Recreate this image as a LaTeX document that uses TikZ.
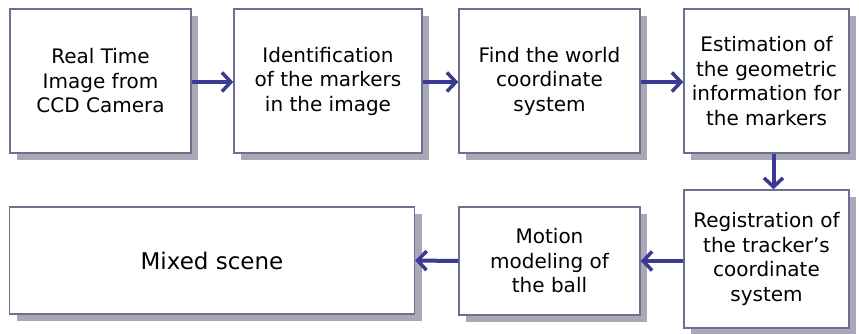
\documentclass[tikz,border=0pt]{standalone}
\usepackage{fontspec}
\setmainfont{DejaVu Sans}
\usetikzlibrary{arrows.meta,shadows}
\definecolor{boxline}{HTML}{6E6E92}
\definecolor{shadowc}{HTML}{A8A8B6}
\definecolor{arrowc}{HTML}{3A3A92}
\begin{document}
\begin{tikzpicture}[x=1pt,y=-1pt,
  box/.style={draw=boxline,line width=1.4pt,fill=white,
    drop shadow={shadow xshift=7pt,shadow yshift=-7pt,fill=shadowc,opacity=1},
    align=center,inner sep=0pt,
    font=\fontsize{20}{24.5}\selectfont},
  flow/.style={draw=arrowc,line width=4pt,
    -{Straight Barb[length=9pt,width=19pt,line width=3.5pt]}}]
\useasboundingbox (0,0) rectangle (859,334);
\node[box,minimum width=181pt,minimum height=144pt] (b1) at (100.5,81) {Real Time\\Image from\\CCD Camera};
\node[box,minimum width=188pt,minimum height=144pt] (b2) at (328,81) {Identification\\of the markers\\in the image};
\node[box,minimum width=181pt,minimum height=144pt] (b3) at (549.5,81) {Find the world\\coordinate\\system};
\node[box,minimum width=165pt,minimum height=144pt] (b4) at (766.5,81) {Estimation of\\the geometric\\information for\\the markers};
\node[box,minimum width=165pt,minimum height=138pt] (b5) at (766.5,259) {Registration of\\the tracker's\\coordinate\\system};
\node[box,minimum width=181pt,minimum height=108pt] (b6) at (549.5,261) {Motion\\modeling of\\the ball};
\node[box,minimum width=405pt,minimum height=107pt,font=\fontsize{23}{28}\selectfont] (b7) at (212,260.5) {Mixed scene};
\draw[flow] ([yshift=-1pt]b1.east) -- ([yshift=-1pt]b2.west);
\draw[flow] ([yshift=-1pt]b2.east) -- ([yshift=-1pt]b3.west);
\draw[flow] ([yshift=-1pt]b3.east) -- ([yshift=-1pt]b4.west);
\draw[flow] ([xshift=7pt]b4.south) -- ([xshift=7pt]b5.north);
\draw[flow] (b5.west |- b6.east) -- (b6.east);
\draw[flow] (b6.west) -- (b7.east);
\end{tikzpicture}
\end{document}
